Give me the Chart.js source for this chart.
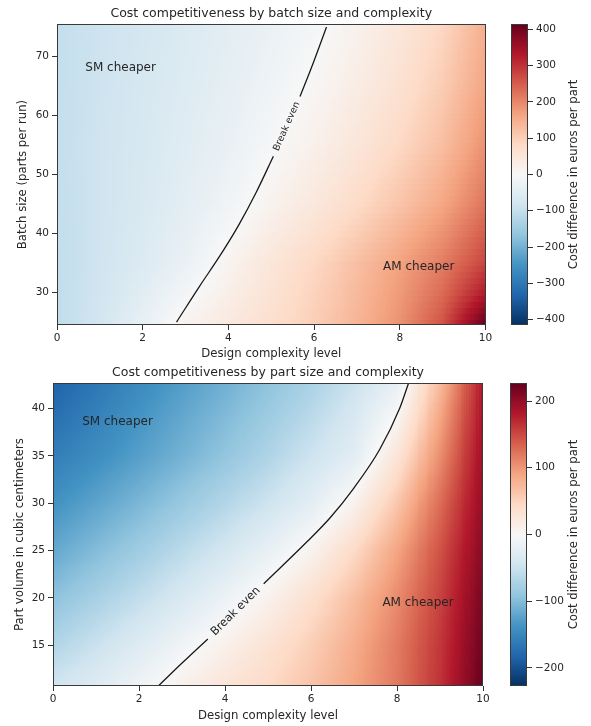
<!DOCTYPE html>
<html>
<head>
<meta charset="utf-8">
<title>Cost competitiveness</title>
<script src="https://cdn.jsdelivr.net/npm/chart.js@4.4.1/dist/chart.umd.min.js"></script>
<style>
  html, body { margin: 0; padding: 0; background: #fff; }
  #page { position: relative; width: 591px; height: 726px; overflow: hidden; }
  .box { position: absolute; }
</style>
</head>
<body>
<div id="page">
  <div class="box" style="left:0;top:0;width:500px;height:363px"><canvas id="batchChart"></canvas></div>
  <div class="box" style="left:511px;top:0;width:80px;height:363px"><canvas id="batchBar"></canvas></div>
  <div class="box" style="left:0;top:363px;width:500px;height:363px"><canvas id="volumeChart"></canvas></div>
  <div class="box" style="left:510px;top:363px;width:81px;height:363px"><canvas id="volumeBar"></canvas></div>
</div>
<script>
// ---- data ----
const complexityLevels = [0, 1, 2, 3, 4, 5, 6, 7, 8, 9, 10];
const complexityTicks = [0, 2, 4, 6, 8, 10];

// top panel: cost difference (euros per part), one row per batch size
const batchSizes = [25, 30, 35, 45, 55, 65, 75];
const batchCostDiff = [
    [-106, -80, -35, 12, 42, 70, 102, 140, 188, 262, 410],
    [-105, -82, -48, -10, 26, 60, 95, 133, 178, 235, 330],
    [-104, -84, -59, -30, 12, 50, 86, 125, 168, 215, 280],
    [-102, -85, -66, -44, -17, 16, 46, 80, 118, 162, 225],
    [-100, -85, -69, -51, -31, -5, 22, 50, 85, 127, 190],
    [-100, -87, -72, -56, -39, -18, 6, 32, 64, 105, 165],
    [-100, -88, -75, -60, -45, -28, -8, 18, 48, 88, 150]
];
const batchTicks = [30, 40, 50, 60, 70];
const batchRange = [24.5, 75.5];
const batchLimit = 415;
const batchBarTicks = [-400, -300, -200, -100, 0, 100, 200, 300, 400];
// break-even contour (complexity, batch size); null = gap for the label
const batchBreakEven = [[2.79, 25], [3.33, 31.1], [3.8, 36.2], [4.23, 41.3], [4.65, 47], [5.05, 53.1],
    [5.36, null], [5.67, 63.2], [5.98, 68.9], [6.29, 75]];

// bottom panel: cost difference, one row per part volume
const partVolumes = [10.7, 15, 20, 25, 30, 35, 40, 42.7];
const volumeCostDiff = [
    [-45, -30, -10, 12, 30, 46, 65, 90, 120, 165, 227],
    [-68, -50, -30, -9, 12, 33, 56, 84, 118, 162, 222],
    [-93, -75, -56, -36, -13, 10, 38, 70, 108, 155, 216],
    [-117, -99, -81, -61, -41, -18, 8, 45, 90, 145, 208],
    [-138, -121, -104, -86, -67, -47, -24, 9, 63, 128, 200],
    [-158, -142, -125, -108, -90, -70, -47, -26, 30, 106, 193],
    [-175, -157, -138, -120, -103, -85, -65, -40, -3, 85, 186],
    [-184, -165, -145, -127, -110, -92, -73, -50, -18, 72, 182]
];
const volumeTicks = [15, 20, 25, 30, 35, 40];
const volumeRange = [10.7, 42.7];
const volumeLimit = 227;
const volumeBarTicks = [-200, -100, 0, 100, 200];
const volumeBreakEven = [[2.45, 10.7], [3.02, 13.2], [3.6, 15.67], [4.25, null], [4.9, 21.5], [5.9, 25.9],
    [6.45, 28.5], [6.98, 31.5], [7.6, 35.7], [8.06, 40], [8.27, 42.7]];

const FONT = 'DejaVu Sans';
const INK = '#262626';

// RdBu reversed (matplotlib RdBu_r anchors)
const rdbuR = ['#053061', '#2166ac', '#4393c3', '#92c5de', '#d1e5f0', '#f7f7f7',
    '#fddbc7', '#f4a582', '#d6604d', '#b2182b', '#67001f'].map(h => [1, 3, 5].map(i => parseInt(h.substr(i, 2), 16)));

function colourFor(v, vmax) {
    let t = Math.max(0, Math.min(1, (v / vmax + 1) / 2)) * 10;
    const i = Math.min(9, Math.floor(t));
    const f = t - i;
    const a = rdbuR[i], b = rdbuR[i + 1];
    return 'rgb(' + a.map((c, k) => Math.round(c + (b[k] - c) * f)).join(',') + ')';
}

function gridValue(grid, xs, ys, x, y) {
    const seg = (arr, v) => {
        let i = 0;
        while (i < arr.length - 2 && v > arr[i + 1]) i++;
        const t = Math.max(0, Math.min(1, (v - arr[i]) / (arr[i + 1] - arr[i])));
        return [i, t];
    };
    const [i, tx] = seg(xs, x);
    const [j, ty] = seg(ys, y);
    const lo = grid[j][i] + (grid[j][i + 1] - grid[j][i]) * tx;
    const hi = grid[j + 1][i] + (grid[j + 1][i + 1] - grid[j + 1][i]) * tx;
    return lo + (hi - lo) * ty;
}

const fmtMinus = v => (v < 0 ? '\u2212' + Math.abs(v) : String(v));

// heatmap under the datasets, cells placed through the chart scales
function heatmap(grid, ys, vmax, rowValues) {
    return {
        id: 'heatmap',
        beforeDatasetsDraw(chart) {
            const {ctx, chartArea: a, scales: {x, y}} = chart;
            ctx.save();
            ctx.beginPath();
            ctx.rect(a.left, a.top, a.width, a.height);
            ctx.clip();
            const cols = 215;
            const rows = rowValues || (() => {
                const out = [], n = 160, h = (y.max - y.min) / n;
                for (let r = 0; r < n; r++) out.push([y.min + r * h, y.min + (r + 1) * h]);
                return out;
            })();
            rows.forEach(([r0, r1]) => {
                const yv = (r0 + r1) / 2;
                const py0 = Math.floor(y.getPixelForValue(r1));
                const py1 = Math.ceil(y.getPixelForValue(r0));
                for (let c = 0; c < cols; c++) {
                    const c0 = x.min + (x.max - x.min) * c / cols;
                    const c1 = x.min + (x.max - x.min) * (c + 1) / cols;
                    const px0 = Math.floor(x.getPixelForValue(c0));
                    const px1 = Math.ceil(x.getPixelForValue(c1));
                    ctx.fillStyle = colourFor(gridValue(grid, complexityLevels, ys, (c0 + c1) / 2, yv), vmax);
                    ctx.fillRect(px0, py0, px1 - px0, py1 - py0);
                }
            });
            ctx.restore();
        }
    };
}

// frame, region notes and the inline "Break even" label
function decorations(notes, line, labelSize) {
    return {
        id: 'decorations',
        afterDatasetsDraw(chart) {
            const {ctx, chartArea: a, scales: {x, y}} = chart;
            ctx.save();
            ctx.fillStyle = INK;
            ctx.font = '12px "' + FONT + '"';
            ctx.textAlign = 'left';
            ctx.textBaseline = 'middle';
            notes.forEach(n => ctx.fillText(n.text, x.getPixelForValue(n.x), y.getPixelForValue(n.y)));

            const k = line.findIndex(p => p[1] === null);
            const p0 = line[k - 1], p1 = line[k + 1];
            const ax = x.getPixelForValue(p0[0]), ay = y.getPixelForValue(p0[1]);
            const bx = x.getPixelForValue(p1[0]), by = y.getPixelForValue(p1[1]);
            ctx.translate((ax + bx) / 2, (ay + by) / 2);
            ctx.rotate(Math.atan2(by - ay, bx - ax));
            ctx.textAlign = 'center';
            ctx.font = labelSize + 'px "' + FONT + '"';
            ctx.fillText('Break even', 0, 0);
            ctx.restore();

            ctx.save();
            ctx.strokeStyle = '#3a3a3a';
            ctx.lineWidth = 1;
            ctx.strokeRect(Math.round(a.left) + 0.5, Math.round(a.top) + 0.5,
                Math.round(a.width) - 1, Math.round(a.height) - 1);
            ctx.restore();
        }
    };
}

function buildPanel(id, cfg) {
    return new Chart(document.getElementById(id), {
        type: 'scatter',
        data: {
            datasets: [{
                data: cfg.line.map(([cx, cy]) => ({x: cx, y: cy})),
                showLine: true,
                spanGaps: false,
                borderColor: '#1a1a1a',
                borderWidth: 1.3,
                pointRadius: 0,
                cubicInterpolationMode: 'monotone'
            }]
        },
        options: {
            responsive: true,
            maintainAspectRatio: false,
            animation: false,
            events: [],
            layout: {padding: {top: 0, bottom: 0, left: cfg.padLeft, right: cfg.padRight}},
            plugins: {
                legend: {display: false},
                tooltip: {enabled: false},
                title: {
                    display: true,
                    text: cfg.title,
                    fullSize: false,
                    color: INK,
                    font: {family: FONT, size: 12.5, weight: 'normal'},
                    padding: cfg.titlePad
                }
            },
            scales: {
                x: {
                    type: 'linear', min: 0, max: 10,
                    afterBuildTicks: s => { s.ticks = complexityTicks.map(v => ({value: v})); },
                    afterFit: s => { s.height = cfg.xHeight; },
                    grid: {drawOnChartArea: false, tickLength: 5, color: '#333'},
                    border: {display: false},
                    ticks: {color: INK, font: {family: FONT, size: 10.5}, padding: 2, maxRotation: 0, autoSkip: false},
                    title: {display: true, text: 'Design complexity level', color: INK,
                        font: {family: FONT, size: 11.7}, padding: {top: 0, bottom: cfg.xTitlePad}}
                },
                y: {
                    type: 'linear', min: cfg.range[0], max: cfg.range[1],
                    afterBuildTicks: s => { s.ticks = cfg.ticks.map(v => ({value: v})); },
                    afterFit: s => { s.width = cfg.yWidth; },
                    grid: {drawOnChartArea: false, tickLength: 5, color: '#333'},
                    border: {display: false},
                    ticks: {color: INK, font: {family: FONT, size: 10.5}, padding: 3, autoSkip: false},
                    title: {display: true, text: cfg.yTitle, color: INK,
                        font: {family: FONT, size: 11.7}, padding: {top: 0, bottom: 0}}
                }
            }
        },
        plugins: [heatmap(cfg.grid, cfg.rows, cfg.limit, cfg.rowCells), decorations(cfg.notes, cfg.line, cfg.labelSize)]
    });
}

function buildColourbar(id, cfg) {
    return new Chart(document.getElementById(id), {
        type: 'scatter',
        data: {datasets: []},
        options: {
            responsive: true,
            maintainAspectRatio: false,
            animation: false,
            events: [],
            layout: {padding: {top: cfg.top, bottom: cfg.bottom, left: 0, right: 0}},
            plugins: {legend: {display: false}, tooltip: {enabled: false}},
            scales: {
                x: {display: false, min: 0, max: 1},
                y: {
                    position: 'right', min: -cfg.limit, max: cfg.limit,
                    afterBuildTicks: s => { s.ticks = cfg.ticks.map(v => ({value: v})); },
                    afterFit: s => { s.width = cfg.axisWidth; },
                    grid: {drawOnChartArea: false, tickLength: 5, color: '#333'},
                    border: {display: false},
                    ticks: {color: INK, font: {family: FONT, size: 10.5}, padding: 3, autoSkip: false,
                        callback: v => fmtMinus(v)}
                }
            }
        },
        plugins: [{
            id: 'colourbar',
            beforeDatasetsDraw(chart) {
                const {ctx, chartArea: a, scales: {y}} = chart;
                const n = 300;
                ctx.save();
                for (let i = 0; i < n; i++) {
                    const v0 = y.min + (y.max - y.min) * i / n;
                    const v1 = y.min + (y.max - y.min) * (i + 1) / n;
                    const p0 = Math.floor(y.getPixelForValue(v1));
                    const p1 = Math.ceil(y.getPixelForValue(v0));
                    ctx.fillStyle = colourFor((v0 + v1) / 2, cfg.limit);
                    ctx.fillRect(a.left, p0, a.width, p1 - p0);
                }
                ctx.strokeStyle = '#3a3a3a';
                ctx.lineWidth = 1;
                ctx.strokeRect(Math.round(a.left) + 0.5, Math.round(a.top) + 0.5,
                    Math.round(a.width) - 1, Math.round(a.height) - 1);
                ctx.translate(cfg.labelX, (a.top + a.bottom) / 2);
                ctx.rotate(-Math.PI / 2);
                ctx.fillStyle = INK;
                ctx.font = '11.7px "' + FONT + '"';
                ctx.textAlign = 'center';
                ctx.textBaseline = 'middle';
                ctx.fillText('Cost difference in euros per part', 0, 0);
                ctx.restore();
            }
        }]
    });
}

// top panel rows are whole batch sizes (25..75)
const batchRowCells = [];
for (let b = batchSizes[0]; b <= batchSizes[batchSizes.length - 1]; b++) batchRowCells.push([b - 0.5, b + 0.5]);

buildPanel('batchChart', {
    title: 'Cost competitiveness by batch size and complexity',
    yTitle: 'Batch size (parts per run)',
    grid: batchCostDiff, rows: batchSizes, rowCells: batchRowCells,
    limit: batchLimit, range: batchRange, ticks: batchTicks,
    line: batchBreakEven, labelSize: 9.3,
    notes: [{text: 'SM cheaper', x: 0.66, y: 68.1}, {text: 'AM cheaper', x: 7.61, y: 34.4}],
    padLeft: 16, padRight: 14.5, yWidth: 41, xHeight: 38, xTitlePad: 2,
    titlePad: {top: 6, bottom: 3}
});
buildColourbar('batchBar', {
    limit: batchLimit, ticks: batchBarTicks, top: 24, bottom: 38, axisWidth: 63, labelX: 63
});

buildPanel('volumeChart', {
    title: 'Cost competitiveness by part size and complexity',
    yTitle: 'Part volume in cubic centimeters',
    grid: volumeCostDiff, rows: partVolumes, rowCells: null,
    limit: volumeLimit, range: volumeRange, ticks: volumeTicks,
    line: volumeBreakEven, labelSize: 11.4,
    notes: [{text: 'SM cheaper', x: 0.68, y: 38.6}, {text: 'AM cheaper', x: 7.66, y: 19.5}],
    padLeft: 13, padRight: 17, yWidth: 40, xHeight: 40, xTitlePad: 3,
    titlePad: {top: 2, bottom: 3}
});
buildColourbar('volumeBar', {
    limit: volumeLimit, ticks: volumeBarTicks, top: 20, bottom: 40, axisWidth: 64, labelX: 64
});
</script>
</body>
</html>
